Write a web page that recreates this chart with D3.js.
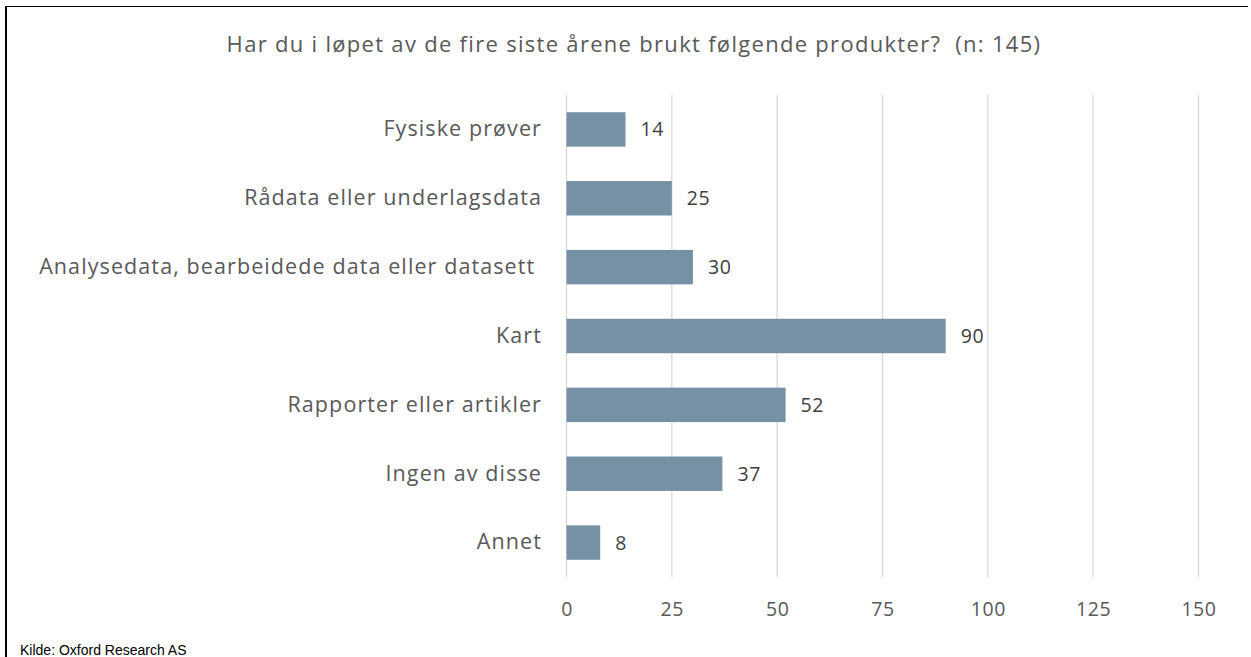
<!DOCTYPE html>
<html><head><meta charset="utf-8">
<script src="https://cdn.jsdelivr.net/npm/d3@7"></script>
<style>body{margin:0;background:#fff}svg{display:block}</style>
</head><body><svg id="c" width="1251" height="657"></svg>
<script>
const categories = ["Fysiske prøver","Rådata eller underlagsdata","Analysedata, bearbeidede data eller datasett ","Kart","Rapporter eller artikler","Ingen av disse","Annet"];
const values = [14,25,30,90,52,37,8];
const ticks = [0,25,50,75,100,125,150];
const title = "Har du i løpet av de fire siste årene brukt følgende produkter?  (n: 145)";
const source = "Kilde: Oxford Research AS";

const svg = d3.select("#c");
const font = "'Open Sans', sans-serif";
const x = d3.scaleLinear().domain([0,150]).range([566.5,1198.5]);
const y = d3.scaleBand().domain(categories).range([95,577]).paddingInner(0.5).paddingOuter(0.25);

// frame
svg.append("line").attr("x1",5).attr("x2",1248).attr("y1",6.5).attr("y2",6.5).attr("stroke","#000").attr("stroke-width",1.2);
svg.append("line").attr("x1",6).attr("x2",6).attr("y1",6).attr("y2",657).attr("stroke","#000").attr("stroke-width",2);

// gridlines
svg.append("g").selectAll("line").data(ticks).join("line")
  .attr("x1",d=>x(d)).attr("x2",d=>x(d)).attr("y1",95).attr("y2",577)
  .attr("stroke","#d9d9d9").attr("stroke-width",1.3);

// x axis
const xa = svg.append("g").attr("transform","translate(0,577)")
  .call(d3.axisBottom(x).tickValues(ticks).tickSize(0).tickPadding(25));
xa.select(".domain").remove();
xa.selectAll("text").attr("font-family",font).attr("font-size",19.5).attr("fill","#595959").attr("letter-spacing",0.6);

// y axis
const ya = svg.append("g").attr("transform","translate(542,0)")
  .call(d3.axisLeft(y).tickSize(0).tickPadding(0));
ya.select(".domain").remove();
ya.selectAll("text").attr("font-family",font).attr("font-size",21.5).attr("fill","#595959")
  .attr("letter-spacing",1.1).style("white-space","pre");

// bars
svg.append("g").selectAll("rect").data(values).join("rect")
  .attr("x",x(0)).attr("y",(d,i)=>y(categories[i]))
  .attr("width",d=>x(d)-x(0)).attr("height",y.bandwidth())
  .attr("fill","#7591a3");

// value labels
svg.append("g").selectAll("text").data(values).join("text")
  .attr("x",d=>x(d)+15).attr("y",(d,i)=>y(categories[i])+y.bandwidth()/2)
  .attr("dy","0.36em").attr("font-family",font).attr("font-size",19.5).attr("fill","#404040")
  .attr("letter-spacing",0.6)
  .text(d=>d);

// title
svg.append("text").attr("x",634).attr("y",52).attr("text-anchor","middle")
  .attr("font-family",font).attr("font-size",22).attr("fill","#595959")
  .attr("letter-spacing",1.3).style("white-space","pre").text(title);

// source
svg.append("text").attr("x",20).attr("y",655).attr("font-family","'Liberation Sans', Arial, sans-serif")
  .attr("font-size",14).attr("fill","#000").text(source);
</script></body></html>
